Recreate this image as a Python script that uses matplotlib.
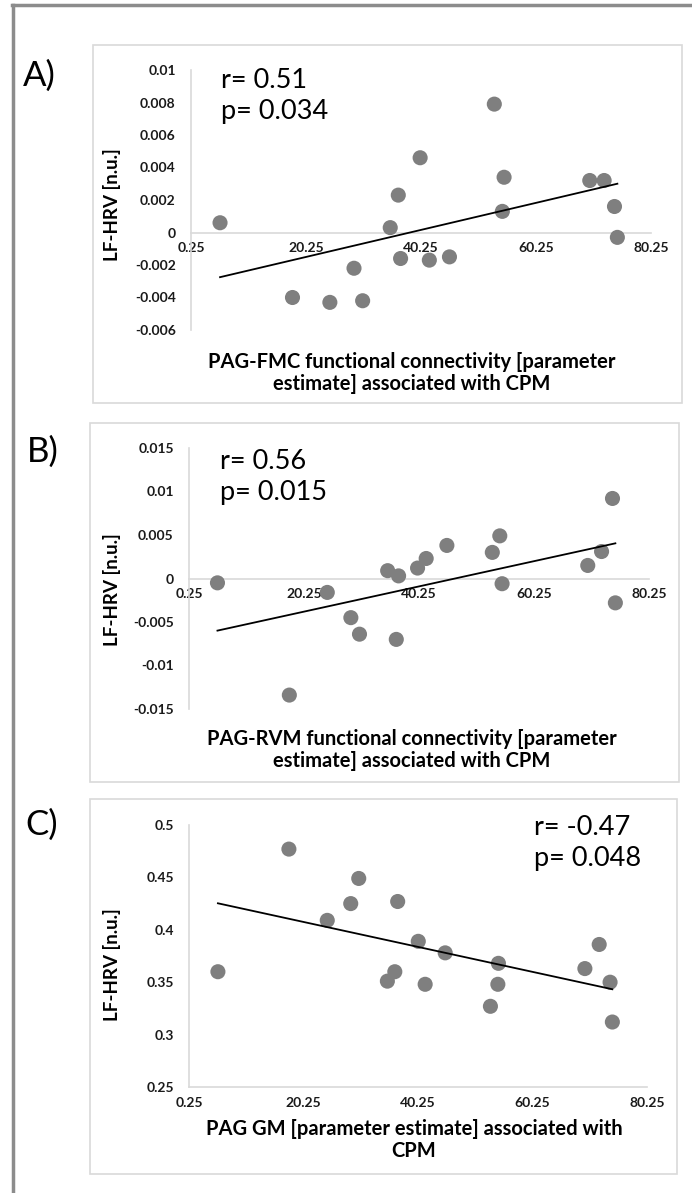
import numpy as np
import matplotlib
matplotlib.use("Agg")
import matplotlib.pyplot as plt
from matplotlib.patches import Rectangle
from matplotlib.lines import Line2D

plt.rcParams['font.family'] = ['Lato', 'DejaVu Sans']

W, H = 692, 1193

# data (x = parameter estimate, y = LF-HRV)
fmc_x = [5.3, 17.9, 24.4, 28.6, 30.1, 34.9, 36.3, 36.7, 40.1, 41.7, 45.2, 53.0, 54.7, 54.4, 69.6, 72.1, 73.9, 74.4]
fmc_y = [0.0006, -0.0040, -0.0043, -0.0022, -0.0042, 0.0003, 0.0023, -0.0016, 0.0046, -0.0017,
         -0.0015, 0.0079, 0.0034, 0.0013, 0.0032, 0.0032, 0.0016, -0.0003]

rvm_x = [5.2, 17.7, 24.3, 28.4, 29.9, 34.8, 36.7, 36.3, 40.0, 41.5, 45.1, 53.0, 54.3, 54.7, 69.6, 72.0, 73.9, 74.4]
rvm_y = [-0.0005, -0.0134, -0.0016, -0.0045, -0.0064, 0.0009, 0.0003, -0.0070, 0.0012, 0.0023,
         0.0038, 0.0030, 0.0049, -0.0006, 0.0015, 0.0031, 0.0092, -0.0028]

gm_x = [5.3, 17.7, 24.4, 28.5, 29.9, 34.9, 36.2, 36.7, 40.3, 41.5, 45.0, 52.9, 54.3, 54.2, 69.4, 71.9, 73.8, 74.2]
gm_y = [0.360, 0.477, 0.409, 0.425, 0.449, 0.351, 0.360, 0.427, 0.389, 0.348, 0.378, 0.327,
        0.368, 0.348, 0.363, 0.386, 0.350, 0.312]

x_ticks = [0.25, 20.25, 40.25, 60.25, 80.25]
x_labels = ['0.25', '20.25', '40.25', '60.25', '80.25']

fmc_yticks = [0.01, 0.008, 0.006, 0.004, 0.002, 0, -0.002, -0.004, -0.006]
fmc_ylabels = ['0.01', '0.008', '0.006', '0.004', '0.002', '0', '-0.002', '-0.004', '-0.006']
rvm_yticks = [0.015, 0.01, 0.005, 0, -0.005, -0.01, -0.015]
rvm_ylabels = ['0.015', '0.01', '0.005', '0', '-0.005', '-0.01', '-0.015']
gm_yticks = [0.5, 0.45, 0.4, 0.35, 0.3, 0.25]
gm_ylabels = ['0.5', '0.45', '0.4', '0.35', '0.3', '0.25']

panels = [
    dict(letter='A)', x=fmc_x, y=fmc_y, yt=fmc_yticks, yl=fmc_ylabels,
         xlabel='PAG-FMC functional connectivity [parameter\nestimate] associated with CPM',
         stats='r= 0.51\np= 0.034',
         box=(93, 45, 682, 403), ax=(191, 70, 651, 330), zero=True,
         letter_xy=(23, 76), ylab_y=205, xlab_xy=(412, 373), stats_xy=(221, 96)),
    dict(letter='B)', x=rvm_x, y=rvm_y, yt=rvm_yticks, yl=rvm_ylabels,
         xlabel='PAG-RVM functional connectivity [parameter\nestimate] associated with CPM',
         stats='r= 0.56\np= 0.015',
         box=(90, 423, 679, 782), ax=(189, 448, 649, 709), zero=True,
         letter_xy=(27, 452), ylab_y=590, xlab_xy=(412, 750), stats_xy=(220, 477)),
    dict(letter='C)', x=gm_x, y=gm_y, yt=gm_yticks, yl=gm_ylabels,
         xlabel='PAG GM [parameter estimate] associated with\nCPM',
         stats='r= -0.47\np= 0.048',
         box=(90, 799, 677, 1174), ax=(189, 825, 647, 1087), zero=False,
         letter_xy=(25, 825), ylab_y=965, xlab_xy=(414, 1140), stats_xy=(534, 843)),
]


def fx(px):
    return px / W


def fy(py):
    return 1 - py / H


fig = plt.figure(figsize=(W / 100, H / 100), dpi=100)
fig.patch.set_facecolor('white')

# outer frame of the figure (only top and left edges visible)
fig.add_artist(Line2D([fx(13), fx(13)], [fy(5), 0], color='#8c8c8c', lw=2.5, transform=fig.transFigure))
fig.add_artist(Line2D([fx(12), 1], [fy(5), fy(5)], color='#8c8c8c', lw=2.5, transform=fig.transFigure))

grey = '#d9d9d9'
for p in panels:
    x0, y0, x1, y1 = p['box']
    fig.add_artist(Rectangle((fx(x0), fy(y1)), fx(x1) - fx(x0), fy(y0) - fy(y1),
                             transform=fig.transFigure, fill=False, ec=grey, lw=1.2))
    a0, b0, a1, b1 = p['ax']
    ax = fig.add_axes([fx(a0), fy(b1), fx(a1) - fx(a0), fy(b0) - fy(b1)])
    ax.patch.set_alpha(0)

    xs = np.array(p['x'])
    ys = np.array(p['y'])
    ax.scatter(xs, ys, s=118, color='#7f7f7f', edgecolors='none', zorder=3)
    k, c = np.polyfit(xs, ys, 1)
    xl = np.array([xs.min(), xs.max()])
    ax.plot(xl, k * xl + c, color='black', lw=1.3, zorder=4)

    ax.set_xlim(0.25, 80.25)
    ax.set_ylim(min(p['yt']), max(p['yt']))
    ax.set_xticks(x_ticks)
    ax.set_xticklabels(x_labels)
    ax.set_yticks(p['yt'])
    ax.set_yticklabels(p['yl'])
    for s in ['top', 'right']:
        ax.spines[s].set_visible(False)
    ax.spines['left'].set_color(grey)
    ax.spines['bottom'].set_color(grey)
    ax.spines['left'].set_linewidth(1.2)
    ax.spines['bottom'].set_linewidth(1.2)
    if p['zero']:
        ax.spines['bottom'].set_position(('data', 0))
    ax.tick_params(axis='x', length=0, pad=7, labelsize=10)
    ax.tick_params(axis='y', length=0, pad=11, labelsize=10)
    for t in ax.get_xticklabels() + ax.get_yticklabels():
        t.set_fontweight('bold')
        t.set_color('#1a1a1a')

    fig.text(fx(p['letter_xy'][0]), fy(p['letter_xy'][1]), p['letter'], fontsize=25,
             ha='left', va='center')
    fig.text(fx(112), fy(p['ylab_y']), 'LF-HRV [n.u.]', rotation=90, fontsize=13.5,
             fontweight='bold', ha='center', va='center')
    fig.text(fx(p['xlab_xy'][0]), fy(p['xlab_xy'][1]), p['xlabel'], fontsize=14.5,
             fontweight='bold', ha='center', va='center', linespacing=1.1)
    fig.text(fx(p['stats_xy'][0]), fy(p['stats_xy'][1]), p['stats'], fontsize=19.5,
             ha='left', va='center', linespacing=1.3)

fig.savefig('out.png', dpi=100)
